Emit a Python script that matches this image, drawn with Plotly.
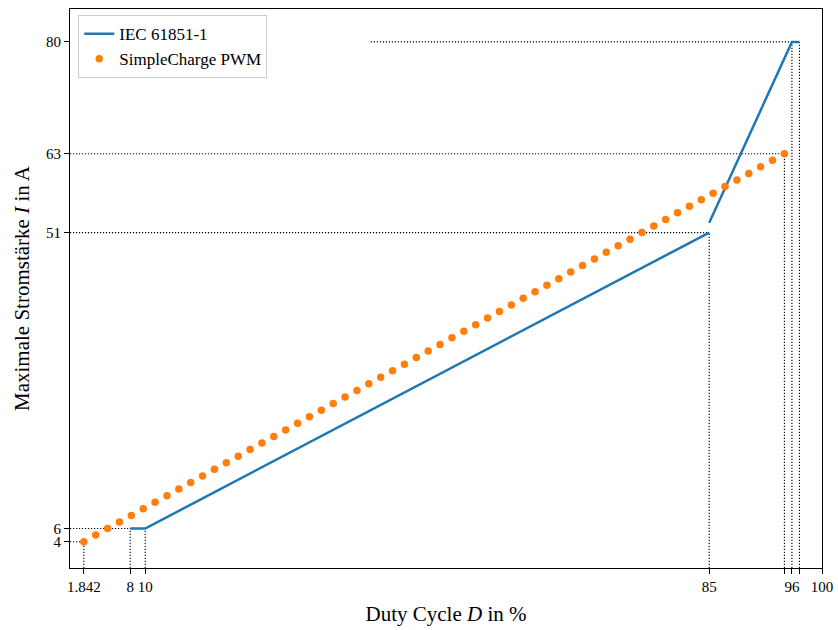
import plotly.graph_objects as go

# IEC 61851-1 current limit vs. PWM duty cycle (None splits the jump at 85 %)
iec_duty = [8, 10, 85, None, 85, 96, 97]
iec_current = [6, 6, 51, None, 52.5, 80, 80]

# SimpleCharge PWM: one step per ampere, 4 A .. 63 A
pwm_current = list(range(4, 64))
pwm_duty = [
    1.842, 3.4209, 4.9999, 6.5788, 8.1578, 9.7367, 11.3157, 12.8946, 14.4736, 16.0525,
    17.6315, 19.2104, 20.7894, 22.3683, 23.9473, 25.5262, 27.1052, 28.6841, 30.2631, 31.8420,
    33.4210, 34.9999, 36.5789, 38.1578, 39.7368, 41.3157, 42.8947, 44.4736, 46.0526, 47.6315,
    49.2105, 50.7894, 52.3684, 53.9473, 55.5263, 57.1052, 58.6842, 60.2631, 61.8421, 63.4210,
    65.0000, 66.5789, 68.1579, 69.7368, 71.3158, 72.8947, 74.4737, 76.0526, 77.6316, 79.2105,
    80.7895, 82.3684, 83.9474, 85.5263, 87.1053, 88.6842, 90.2632, 91.8421, 93.4211, 95.0,
]

# Dotted guide lines: (x_start, x_end, y) horizontals and (x, y_top) verticals
guide_h = [(0, 1.842, 4), (0, 10, 6), (0, 85, 51), (0, 95, 63), (40, 96, 80)]
guide_v = [(1.842, 4), (8, 6), (10, 6), (85, 51), (95, 63), (96, 80), (97, 80)]

x_ticks = [1.842, 8, 10, 85, 95, 96, 97, 100]
x_tick_text = ["1.842", "8", "10", "85", "", "96", "", "100"]
y_ticks = [4, 6, 51, 63, 80]

FONT = "Liberation Serif, DejaVu Serif, serif"
BLUE = "#1f77b4"
ORANGE = "#ff7f0e"

fig = go.Figure()

fig.add_trace(go.Scatter(
    x=iec_duty, y=iec_current, mode="lines", name="IEC 61851-1",
    line=dict(color=BLUE, width=2.5), connectgaps=False,
))
fig.add_trace(go.Scatter(
    x=pwm_duty, y=pwm_current, mode="markers", name="SimpleCharge PWM",
    marker=dict(color=ORANGE, size=7.5, line=dict(width=0)),
))

dot_line = dict(color="black", width=1.1, dash="1.2px,1.8px")
for x0, x1, y in guide_h:
    fig.add_shape(type="line", xref="x", yref="y", x0=x0, x1=x1, y0=y, y1=y,
                  line=dot_line, layer="below")
for x, y in guide_v:
    fig.add_shape(type="line", xref="x", yref="y", x0=x, x1=x, y0=0, y1=y,
                  line=dot_line, layer="below")

axis_common = dict(
    showgrid=False, zeroline=False, showline=True, linecolor="black", linewidth=1.2,
    mirror=True, ticks="outside", ticklen=5, tickwidth=1.1, tickcolor="black",
    tickfont=dict(family=FONT, size=15, color="black"), automargin=False,
)

fig.update_layout(
    width=838, height=630,
    margin=dict(l=70, r=16, t=9, b=62),
    paper_bgcolor="white", plot_bgcolor="white",
    font=dict(family=FONT, color="black"),
    xaxis=dict(
        range=[0, 100], tickmode="array", tickvals=x_ticks, ticktext=x_tick_text,
        title=dict(text="Duty Cycle <i>D</i> in %", font=dict(family=FONT, size=21), standoff=12),
        **axis_common,
    ),
    yaxis=dict(
        range=[0, 85], tickmode="array", tickvals=y_ticks,
        title=dict(text="Maximale Stromstärke <i>I</i> in A", font=dict(family=FONT, size=21), standoff=10),
        **axis_common,
    ),
    legend=dict(
        x=0.011, y=0.989, xanchor="left", yanchor="top",
        bgcolor="white", bordercolor="#cccccc", borderwidth=1,
        font=dict(family=FONT, size=17, color="black"),
        tracegroupgap=0, itemwidth=30,
    ),
    showlegend=True,
)

fig.write_html("out.html")
